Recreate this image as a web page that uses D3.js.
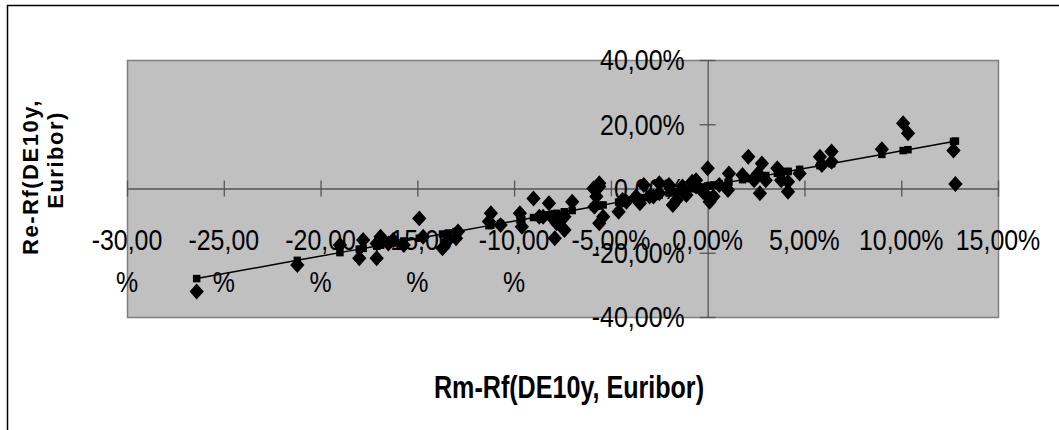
<!DOCTYPE html>
<html>
<head>
<meta charset="utf-8">
<script src="https://cdn.jsdelivr.net/npm/d3@7"></script>
<style>
  body { margin: 0; background: #fff; }
</style>
</head>
<body>
<div id="chart"></div>
<script>
// Monthly excess returns, in percent
const marketExcess = [
  -26.4, -21.2, -19.0, -18.0, -17.8, -17.1, -16.9, -16.5, -17.1, -16.25,
  -15.7, -14.9, -14.7, -13.7, -13.4, -13.0, -12.9, -11.2, -11.3, -10.7,
  -9.7, -9.0, -9.6, -8.7, -8.2, -8.0, -7.9, -7.0, -7.4, -7.8,
  -8.5, -7.4, -5.6, -5.75, -5.6, -5.4, -5.85, -5.9, -5.6, -4.6,
  -4.4, -4.2, -3.7, -3.5, -3.3, -3.0, -2.8, -2.5, -2.5, -2.0,
  -1.8, -1.6, -1.3, -1.1, -0.8, -0.6, -0.6, -0.25, 0.0, 0.1,
  0.3, 0.1, 0.6, 1.1, 1.05, 1.8, 2.1, 2.4, 2.8, 2.7,
  2.6, 3.0, 3.6, 3.8, 4.15, 4.15, 4.75, 5.8, 5.9, 6.4,
  6.4, 9.0, 10.1, 10.35, 12.7, 12.8
];
const stockExcess = [
  -32.1, -23.8, -17.6, -21.7, -16.0, -21.7, -15.0, -17.1, -17.1, -16.0,
  -17.6, -9.3, -15.0, -18.6, -16.0, -15.5, -13.4, -7.7, -10.3, -11.4,
  -7.7, -3.1, -11.9, -8.8, -4.6, -9.3, -15.5, -4.1, -12.9, -10.8,
  -8.8, -8.8, 0.6, -2.5, -10.8, -8.8, -5.7, 0.0, 1.6, -7.2,
  -3.6, -4.1, -2.5, -4.6, 1.1, -2.5, -2.5, -1.5, 1.6, 1.1,
  -5.1, -3.6, 0.6, -2.0, 2.1, 2.6, 0.6, -1.0, 6.3, -3.1,
  -2.5, -4.1, 1.1, 4.7, -0.5, 4.2, 9.9, 2.6, 7.8, -1.5,
  4.7, 2.6, 6.3, 2.6, 2.1, -1.0, 4.7, 9.9, 7.3, 11.5,
  8.3, 12.2, 20.3, 17.2, 11.8, 1.4
];
const xTicks = [-30, -25, -20, -15, -10, -5, 0, 5, 10, 15];
const yTicks = [-40, -20, 0, 20, 40];

const width = 1059;
const height = 430;
const plot = { left: 127, right: 998, top: 60, bottom: 317 };
const font = "'Liberation Sans', Arial, sans-serif";
const axisColor = "#555";
const narrow = 0.86; // the original uses a condensed face

const points = marketExcess.map((x, i) => ({ x: x, y: stockExcess[i] }));

// least squares fit for the trend series
const mx = d3.mean(points, d => d.x);
const my = d3.mean(points, d => d.y);
const beta = d3.sum(points, d => (d.x - mx) * (d.y - my)) / d3.sum(points, d => (d.x - mx) ** 2);
const alpha = my - beta * mx;
const fitted = points.map(d => ({ x: d.x, y: alpha + beta * d.x })).sort((a, b) => a.x - b.x);

const svg = d3
  .select("#chart")
  .append("svg")
  .attr("width", width)
  .attr("height", height)
  .style("font-family", font);

// outer chart frame (top and left edge only are visible)
svg.append("path")
  .attr("d", "M7.5,430 V5.5 H1059")
  .attr("fill", "none")
  .attr("stroke", "#000")
  .attr("stroke-width", 1.5);

const xScale = d3.scaleLinear().domain([-30, 15]).range([plot.left, plot.right]);
const yScale = d3.scaleLinear().domain([-40, 40]).range([plot.bottom, plot.top]);

// grey plot area
svg.append("rect")
  .attr("x", plot.left + 0.5)
  .attr("y", plot.top + 0.5)
  .attr("width", plot.right - plot.left)
  .attr("height", plot.bottom - plot.top)
  .attr("fill", "#c0c0c0")
  .attr("stroke", "#808080")
  .attr("stroke-width", 1.5);

const locale = d3.formatLocale({ decimal: ",", thousands: ".", grouping: [3], currency: ["", ""], minus: "-" });
const fmt = locale.format(".2f");

// x axis through y = 0, ticks crossing the line
const xAxisG = svg.append("g")
  .attr("transform", `translate(0, ${yScale(0)})`)
  .call(d3.axisBottom(xScale).tickValues(xTicks).tickSize(8).tickSizeOuter(0).tickFormat(""));
xAxisG.select(".domain").attr("stroke", axisColor).attr("stroke-width", 1.3);
xAxisG.selectAll(".tick line").attr("y1", -8).attr("stroke", axisColor).attr("stroke-width", 1.3);

// y axis through x = 0
const yAxisG = svg.append("g")
  .attr("transform", `translate(${xScale(0)}, 0)`)
  .call(d3.axisLeft(yScale).tickValues(yTicks).tickSize(8).tickSizeOuter(0).tickFormat(""));
yAxisG.select(".domain").attr("stroke", axisColor).attr("stroke-width", 1.3);
yAxisG.selectAll(".tick line").attr("x1", 8).attr("stroke", axisColor).attr("stroke-width", 1.3);

// x tick labels, long negative ones wrap the % sign onto a second line
const xLabels = svg.append("g")
  .selectAll("text")
  .data(xTicks)
  .enter()
  .append("text")
  .attr("transform", d => `translate(${xScale(d)}, 250) scale(${narrow}, 1)`)
  .attr("text-anchor", "middle")
  .attr("font-size", 29)
  .attr("fill", "#000");
xLabels.each(function (d) {
  const t = d3.select(this);
  if (d <= -10) {
    t.append("tspan").attr("x", 0).text(fmt(d));
    t.append("tspan").attr("x", 0).attr("dy", 42).text("%");
  } else {
    t.text(fmt(d) + "%");
  }
});

// y tick labels
svg.append("g")
  .selectAll("text")
  .data(yTicks)
  .enter()
  .append("text")
  .attr("transform", d => `translate(${xScale(0) - 23}, ${yScale(d)}) scale(${narrow}, 1)`)
  .attr("dy", "0.36em")
  .attr("text-anchor", "end")
  .attr("font-size", 29)
  .attr("fill", "#000")
  .text(d => fmt(d) + "%");

// trend line with square markers
const line = d3.line().x(d => xScale(d.x)).y(d => yScale(d.y));
svg.append("path")
  .datum(fitted)
  .attr("d", line)
  .attr("fill", "none")
  .attr("stroke", "#000")
  .attr("stroke-width", 1.5);

svg.append("g")
  .selectAll("path")
  .data(fitted)
  .enter()
  .append("path")
  .attr("transform", d => `translate(${xScale(d.x)}, ${yScale(d.y)})`)
  .attr("d", d3.symbol().type(d3.symbolSquare).size(56))
  .attr("fill", "#000");

// observed returns as diamonds
svg.append("g")
  .selectAll("path")
  .data(points)
  .enter()
  .append("path")
  .attr("transform", d => `translate(${xScale(d.x)}, ${yScale(d.y)}) scale(1, 1.12)`)
  .attr("d", d3.symbol().type(d3.symbolDiamond2).size(130))
  .attr("fill", "#000");

// axis titles
svg.append("text")
  .attr("transform", "translate(569, 398) scale(0.81, 1)")
  .attr("text-anchor", "middle")
  .attr("font-size", 31)
  .attr("font-weight", "bold")
  .text("Rm-Rf(DE10y, Euribor)");

const yTitle = svg.append("g")
  .attr("font-size", 22)
  .attr("font-weight", "bold")
  .attr("letter-spacing", 1.5);
yTitle.append("text")
  .attr("transform", "translate(38, 177) rotate(-90)")
  .attr("text-anchor", "middle")
  .text("Re-Rf(DE10y,");
yTitle.append("text")
  .attr("transform", "translate(63, 160) rotate(-90)")
  .attr("text-anchor", "middle")
  .text("Euribor)");
</script>
</body>
</html>
